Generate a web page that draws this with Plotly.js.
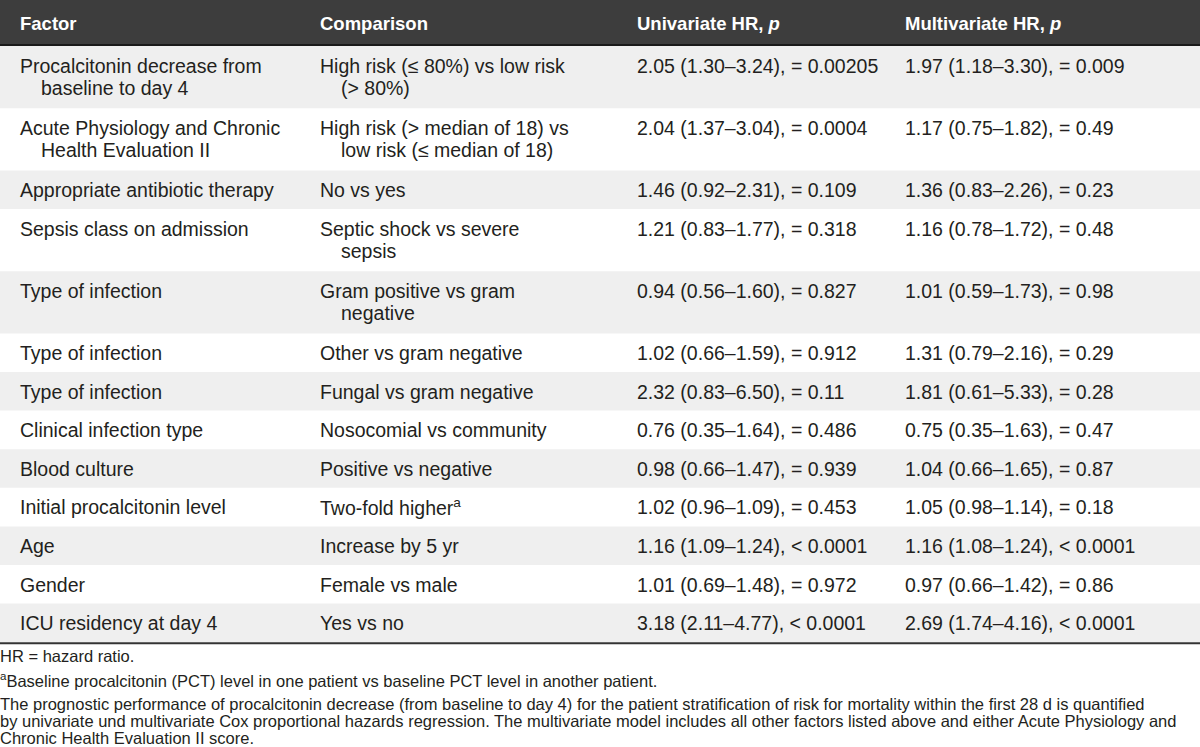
<!DOCTYPE html>
<html>
<head>
<meta charset="utf-8">
<script src="https://cdn.plot.ly/plotly-3.0.1.min.js"></script>
<style>html,body{margin:0;padding:0;background:#fff;}#chart{width:1200px;height:747px;}</style>
</head>
<body>
<div id="chart"></div>
<script>
// ---- data ----
var headers = ["Factor", "Comparison", "Univariate HR, <i>p</i>", "Multivariate HR, <i>p</i>"];
var factors = [
  ["Procalcitonin decrease from", "baseline to day 4"],
  ["Acute Physiology and Chronic", "Health Evaluation II"],
  ["Appropriate antibiotic therapy"],
  ["Sepsis class on admission"],
  ["Type of infection"],
  ["Type of infection"],
  ["Type of infection"],
  ["Clinical infection type"],
  ["Blood culture"],
  ["Initial procalcitonin level"],
  ["Age"],
  ["Gender"],
  ["ICU residency at day 4"]
];
var comparisons = [
  ["High risk (\u2264 80%) vs low risk", "(> 80%)"],
  ["High risk (> median of 18) vs", "low risk (\u2264 median of 18)"],
  ["No vs yes"],
  ["Septic shock vs severe", "sepsis"],
  ["Gram positive vs gram", "negative"],
  ["Other vs gram negative"],
  ["Fungal vs gram negative"],
  ["Nosocomial vs community"],
  ["Positive vs negative"],
  ["Two-fold higher<sup>a</sup>"],
  ["Increase by 5 yr"],
  ["Female vs male"],
  ["Yes vs no"]
];
var univariate = [
  "2.05 (1.30\u20133.24), = 0.00205",
  "2.04 (1.37\u20133.04), = 0.0004",
  "1.46 (0.92\u20132.31), = 0.109",
  "1.21 (0.83\u20131.77), = 0.318",
  "0.94 (0.56\u20131.60), = 0.827",
  "1.02 (0.66\u20131.59), = 0.912",
  "2.32 (0.83\u20136.50), = 0.11",
  "0.76 (0.35\u20131.64), = 0.486",
  "0.98 (0.66\u20131.47), = 0.939",
  "1.02 (0.96\u20131.09), = 0.453",
  "1.16 (1.09\u20131.24), < 0.0001",
  "1.01 (0.69\u20131.48), = 0.972",
  "3.18 (2.11\u20134.77), < 0.0001"
];
var multivariate = [
  "1.97 (1.18\u20133.30), = 0.009",
  "1.17 (0.75\u20131.82), = 0.49",
  "1.36 (0.83\u20132.26), = 0.23",
  "1.16 (0.78\u20131.72), = 0.48",
  "1.01 (0.59\u20131.73), = 0.98",
  "1.31 (0.79\u20132.16), = 0.29",
  "1.81 (0.61\u20135.33), = 0.28",
  "0.75 (0.35\u20131.63), = 0.47",
  "1.04 (0.66\u20131.65), = 0.87",
  "1.05 (0.98\u20131.14), = 0.18",
  "1.16 (1.08\u20131.24), < 0.0001",
  "0.97 (0.66\u20131.42), = 0.86",
  "2.69 (1.74\u20134.16), < 0.0001"
];
var footnotes = [
  "HR = hazard ratio.",
  "<sup>a</sup>Baseline procalcitonin (PCT) level in one patient vs baseline PCT level in another patient.",
  "The prognostic performance of procalcitonin decrease (from baseline to day 4) for the patient stratification of risk for mortality within the first 28 d is quantified",
  "by univariate und multivariate Cox proportional hazards regression. The multivariate model includes all other factors listed above and either Acute Physiology and",
  "Chronic Health Evaluation II score."
];

// ---- layout parameters ----
var W = 1200, H = 747;
var colX = [20, 320, 637, 905];
var indent = 21;
var headerH = 44, ruleH = 2;
var singleH = 38.6, doubleH = 62.2;
var firstLine = 19.5, lineGap = 22;
var bodyFont = 19.5, headFont = 18.5, footFont = 16.5;
var fam = "'Liberation Sans', Arial, Helvetica, sans-serif";
var txt = "#231f20";
var stripe = "#efefef";

var shapes = [], annotations = [];
shapes.push({type:'rect', xref:'x', yref:'y', x0:0, x1:W, y0:0, y1:headerH, fillcolor:'#3d3d3d', line:{width:0}, layer:'below'});
shapes.push({type:'line', xref:'x', yref:'y', x0:0, x1:W, y0:headerH+ruleH/2, y1:headerH+ruleH/2, line:{color:'#1a1a1a', width:ruleH}});
headers.forEach(function(h, i){
  annotations.push({xref:'x', yref:'y', x:colX[i], xshift:-2, y:headerH/2+1, text:'<b>'+h+'</b>', showarrow:false,
    xanchor:'left', yanchor:'middle', align:'left', font:{family:fam, size:headFont, color:'#ffffff'}});
});

function addLines(lines, x, top){
  lines.forEach(function(t, k){
    annotations.push({xref:'x', yref:'y', x:(k === 0 ? x : x + indent), xshift:-2, y:top + firstLine + k*lineGap, text:t, showarrow:false,
      xanchor:'left', yanchor:'middle', align:'left', font:{family:fam, size:bodyFont, color:txt}});
  });
}

var y = headerH + ruleH;
for (var r = 0; r < factors.length; r++) {
  var nLines = Math.max(factors[r].length, comparisons[r].length);
  var h = nLines > 1 ? doubleH : singleH;
  if (r % 2 === 0) {
    shapes.push({type:'rect', xref:'x', yref:'y', x0:0, x1:W, y0:y, y1:y+h, fillcolor:stripe, line:{width:0}, layer:'below'});
  }
  addLines(factors[r], colX[0], y);
  addLines(comparisons[r], colX[1], y);
  addLines([univariate[r]], colX[2], y);
  addLines([multivariate[r]], colX[3], y);
  y += h;
}
shapes.push({type:'line', xref:'x', yref:'y', x0:0, x1:W, y0:y+1, y1:y+1, line:{color:'#333333', width:2}});

var footY = [656, 680, 704, 721, 738];
footnotes.forEach(function(t, i){
  annotations.push({xref:'x', yref:'y', x:0, xshift:-2, y:footY[i], text:t, showarrow:false,
    xanchor:'left', yanchor:'middle', align:'left', font:{family:fam, size:footFont, color:txt}});
});

var layout = {
  width: W, height: H,
  margin: {l:0, r:0, t:0, b:0},
  paper_bgcolor: '#ffffff', plot_bgcolor: '#ffffff',
  xaxis: {range:[0, W], visible:false, fixedrange:true},
  yaxis: {range:[H, 0], visible:false, fixedrange:true},
  showlegend: false,
  shapes: shapes,
  annotations: annotations
};
Plotly.newPlot('chart', [{x:[], y:[], type:'scatter', mode:'markers', hoverinfo:'skip'}], layout, {displayModeBar:false, staticPlot:true});
</script>
</body>
</html>
